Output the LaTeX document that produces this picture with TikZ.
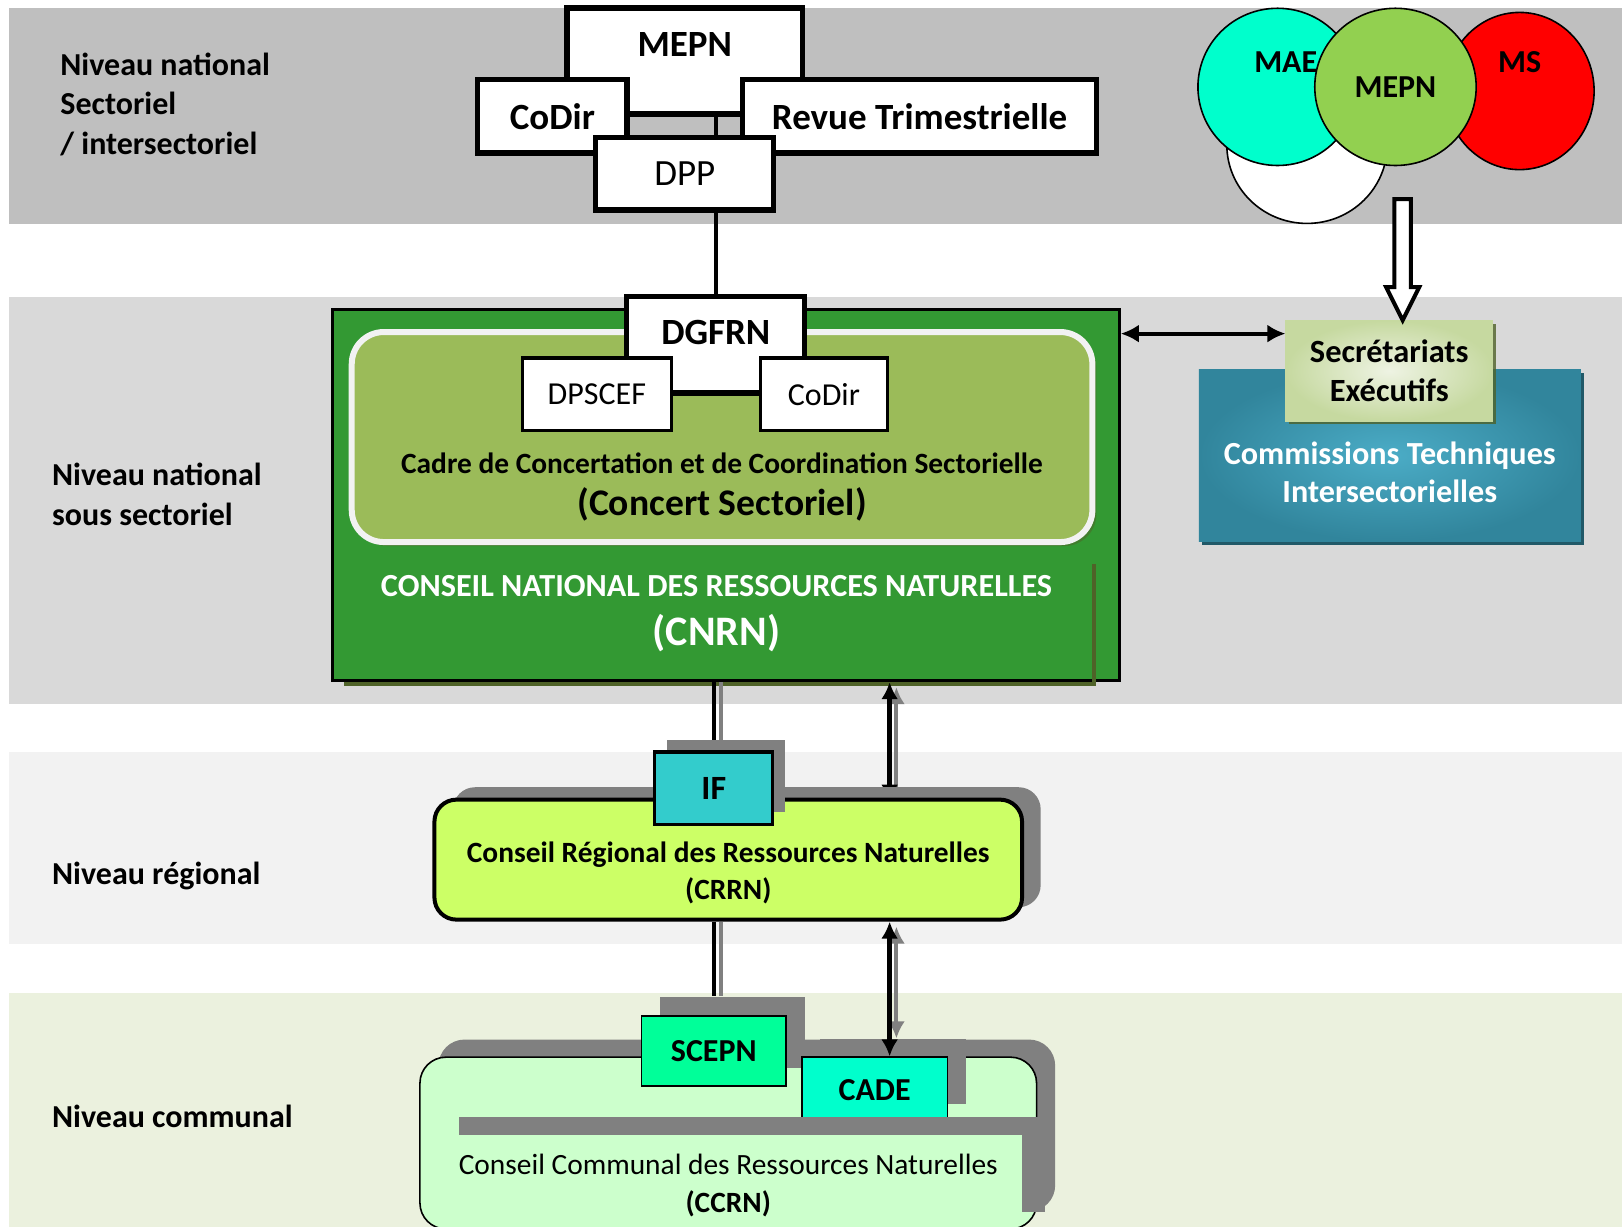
\documentclass[tikz,border=0pt]{standalone}
\usepackage{fontspec}
\setmainfont{Carlito}
\usepackage{xcolor}
\usepackage{tikz}
\usetikzlibrary{positioning, arrows.meta, shapes.geometric, shadows}

\definecolor{bandA}{HTML}{BFBFBF}
\definecolor{bandB}{HTML}{D9D9D9}
\definecolor{bandC}{HTML}{F2F2F2}
\definecolor{bandD}{HTML}{EBF1DE}
\definecolor{cnrngreen}{HTML}{339933}
\definecolor{cnrnolive}{HTML}{4F6228}
\definecolor{concertgreen}{HTML}{9BBB59}
\definecolor{maecol}{HTML}{00FFCC}
\definecolor{mepncol}{HTML}{92D050}
\definecolor{mscol}{HTML}{FF0000}
\definecolor{seclight}{HTML}{EEF3E3}
\definecolor{secdark}{HTML}{C6D9A0}
\definecolor{ctdark}{HTML}{31859C}
\definecolor{ctlight}{HTML}{4BACC6}
\definecolor{ctshadow}{HTML}{215968}
\definecolor{ifcol}{HTML}{33CCCC}
\definecolor{crrncol}{HTML}{CCFF66}
\definecolor{scepncol}{HTML}{00FF99}
\definecolor{cadecol}{HTML}{00FFCC}
\definecolor{ccrncol}{HTML}{CCFFCC}
\definecolor{shadowgray}{HTML}{808080}

\begin{document}
\begin{tikzpicture}[x=0.5172pt, y=-0.5172pt,
		lvl/.style={anchor=west, align=left, inner xsep=0pt, font=\bfseries\fontsize{16}{19.6}\selectfont},
		topbox/.style={draw, line width=2.6pt, fill=white, inner sep=0pt, font=\bfseries\fontsize{18.5}{22}\selectfont},
		subbox/.style={draw, line width=1.6pt, fill=white, inner sep=0pt, font=\fontsize{16}{18}\selectfont},
		circfont/.style={font=\bfseries\fontsize{16}{18}\selectfont},
		circ/.style={ellipse, draw, line width=0.8pt, inner sep=0pt, minimum width=80pt, minimum height=78.6pt, circfont},
		gshadow/.style 2 args={drop shadow={shadow xshift=#1, shadow yshift=#2, fill=shadowgray, opacity=1}},
		link/.style={line width=2pt},
		ghost/.style={shadowgray, line width=2.4pt},
		linkboth/.style={line width=2.4pt, {Latex[length=8.5pt,width=8.5pt]}-{Latex[length=8.5pt,width=8.5pt]}},
		hollow/.style={draw, line width=2pt, fill=white}]
		
		\useasboundingbox (0,0) rectangle (1568,1186);
		
		% Level bands
		\fill[bandA] (9,8) rectangle (1568,217);
		\fill[bandB] (9,287) rectangle (1568,681);
		\fill[bandC] (9,727) rectangle (1568,913);
		\fill[bandD] (9,960) rectangle (1568,1186);
		
		% Level names
		\node[lvl] (lvlA) at (58,101) {Niveau national\\Sectoriel\\/ intersectoriel};
		\node[lvl] (lvlB) at (50,478) {Niveau national\\sous sectoriel};
		\node[lvl] (lvlC) at (50,847) {Niveau régional};
		\node[lvl] (lvlD) at (50,1079) {Niveau communal};
		
		% National council
		\node[draw, line width=1.5pt, fill=cnrngreen, minimum width=393.6pt, minimum height=185.7pt,
			label={[white, font=\bfseries\fontsize{16.1}{17}\selectfont, align=center, xshift=-4.6pt, yshift=-59.5pt]center:{CONSEIL NATIONAL DES RESSOURCES NATURELLES\\[7.5pt]{\fontsize{21}{22}\selectfont (CNRN)}}}] (cnrn) at (701.5,478.5) {};
		\draw[cnrnolive, line width=2pt] (333,661) -- (1058,661) -- (1058,545);
		\node[draw=white!95!black, line width=3pt, fill=concertgreen, rounded corners=16pt, minimum width=370.3pt, minimum height=105pt,
			drop shadow={shadow xshift=2pt, shadow yshift=-2pt, fill=cnrnolive, opacity=0.5},
			label={[font=\bfseries\fontsize{14.7}{15}\selectfont, align=center, yshift=-25pt]center:{Cadre de Concertation et de Coordination Sectorielle\\[5.7pt]{\fontsize{18.8}{19}\selectfont (Concert Sectoriel)}}}] (concert) at (698,422.5) {};
		\node[topbox, minimum width=89pt, minimum height=48.1pt,
			label={[font=\bfseries\fontsize{18.5}{22}\selectfont, yshift=6pt]center:DGFRN}] (dgfrn) at (692,333.5) {};
		\node[subbox, minimum width=74.5pt, minimum height=36.2pt] (dpscef) at (577,381) {DPSCEF};
		\node[subbox, minimum width=63.6pt, minimum height=36.2pt] (codirB) at (796.5,381) {CoDir};
		
		% Ministry level
		\node[topbox, minimum width=117.9pt, minimum height=53pt,
			label={[font=\bfseries\fontsize{18.5}{22}\selectfont, yshift=8.5pt]center:MEPN}] (mepn) at (662,59) {};
		\node[topbox, minimum width=74.5pt, minimum height=36.7pt] (codirA) at (534,112.5) {CoDir};
		\node[topbox, minimum width=176.9pt, minimum height=36.7pt] (rev) at (889,112.5) {Revue Trimestrielle};
		\draw[link] (dgfrn.north) -- (dgfrn.north |- mepn.south);
		\node[topbox, font=\fontsize{18.5}{22}\selectfont, minimum width=89pt, minimum height=36.2pt] (dpp) at (662,168) {DPP};
		
		% Intersectoral ministries
		\node[circ, fill=white, minimum width=80.2pt] (blank) at (1263.5,140) {};
		\node[circ, fill=maecol, minimum width=79.6pt, label={[circfont, xshift=4.1pt, yshift=12.4pt]center:MAE}] (mae) at (1235,84) {};
		\node[circ, fill=mscol, minimum width=74.5pt, label={[circfont, yshift=14.5pt]center:MS}] (ms) at (1469,88) {};
		\node[circ, fill=mepncol, minimum width=80.7pt] (mepnB) at (1349,84) {MEPN};
		
		% Technical commissions
		\node[draw=ctdark, inner color=ctlight, outer color=ctdark, minimum width=190.8pt, minimum height=85.9pt,
			drop shadow={shadow xshift=1.5pt, shadow yshift=-2pt, fill=ctshadow, opacity=1},
			label={[white, font=\bfseries\fontsize{16.1}{19.1}\selectfont, align=center, yshift=-8.5pt]center:{Commissions Techniques\\Intersectorielles}}] (ct) at (1343.5,440) {};
		\node[draw=secdark, inner color=seclight, outer color=secdark, minimum width=103.4pt, minimum height=50.2pt, align=center,
			drop shadow={shadow xshift=1.5pt, shadow yshift=-1.5pt, fill=cnrnolive, opacity=0.8},
			font=\bfseries\fontsize{16.2}{19.7}\selectfont] (sec) at (1343,358.5) {Secrétariats\\Exécutifs};
		\coordinate (tip) at ([xshift=6.7pt]sec.north);
		\draw[hollow] (tip) -- ++(-16,-32) -- ++(8,0) -- ++(0,-85) -- ++(16,0) -- ++(0,85) -- ++(8,0) -- cycle;
		\coordinate (se) at ([yshift=-6.7pt]sec.north west);
		\draw[line width=2pt, {Latex[length=9pt,width=9pt]}-{Latex[length=9pt,width=9pt]}] (cnrn.east |- se) -- (se);
		
		% Regional council
		\coordinate (c1) at (690,715);
		\draw[ghost] ([xshift=3.6pt]cnrn.south -| c1) -- ([xshift=3.6pt]c1);
		\draw[link] (cnrn.south -| c1) -- (c1);
		\coordinate (a1) at (860,775);
		\draw[linkboth, shadowgray, line width=2pt] ([xshift=3.4pt, yshift=-2.5pt]cnrn.south -| a1) -- ([xshift=3.4pt, yshift=-2.5pt]a1);
		\draw[linkboth] (cnrn.south -| a1) -- (a1);
		\node[draw, line width=2pt, fill=crrncol, rounded corners=11pt, minimum width=293.8pt, minimum height=60pt,
			gshadow={9.3pt}{6.2pt},
			label={[font=\bfseries\fontsize{14.7}{18.6}\selectfont, align=center, yshift=-6.8pt]center:{Conseil Régional des Ressources Naturelles\\(CRRN)}}] (crrn) at (704,831) {};
		\node[draw, line width=1.6pt, fill=ifcol, minimum width=59pt, minimum height=36.2pt, gshadow={6.2pt}{6.2pt},
			font=\bfseries\fontsize{17}{20}\selectfont] (if) at (690,762) {IF};
		
		% Communal council
		\coordinate (b1) at (690,963);
		\draw[ghost] ([xshift=3.6pt]crrn.south -| b1) -- ([xshift=3.6pt]b1);
		\draw[link] (crrn.south -| b1) -- (b1);
		\node[draw, line width=0.8pt, fill=ccrncol, rounded corners=13pt, minimum width=308.3pt, minimum height=85.9pt,
			gshadow={9.3pt}{8.8pt},
			label={[font=\fontsize{14.7}{18.6}\selectfont, align=center, yshift=-21.2pt]center:{Conseil Communal des Ressources Naturelles\\\textbf{(CCRN)}}}] (ccrn) at (704,1105) {};
		\node[draw, line width=0.8pt, fill=scepncol, minimum width=72.4pt, minimum height=35.2pt, gshadow={9.3pt}{9.3pt},
			font=\bfseries\fontsize{16}{18}\selectfont] (scepn) at (690,1016) {SCEPN};
		\node[draw, line width=0.8pt, fill=cadecol, minimum width=72.9pt, minimum height=32.6pt, gshadow={9.3pt}{9.3pt},
			font=\bfseries\fontsize{16}{18}\selectfont] (cade) at (845.5,1053.5) {CADE};
		\fill[shadowgray] (444,1080) rectangle (1010,1097);
		\fill[shadowgray] (988,1080) rectangle (1010,1172);
		\coordinate (a2) at ([xshift=7.5pt]cade.north);
		\draw[linkboth, shadowgray, line width=2pt] ([xshift=3.4pt, yshift=-2.5pt]crrn.south -| a2) -- ([xshift=3.4pt, yshift=9pt]a2);
		\draw[linkboth] (crrn.south -| a2) -- (a2);
		
	\end{tikzpicture}
\end{document}
